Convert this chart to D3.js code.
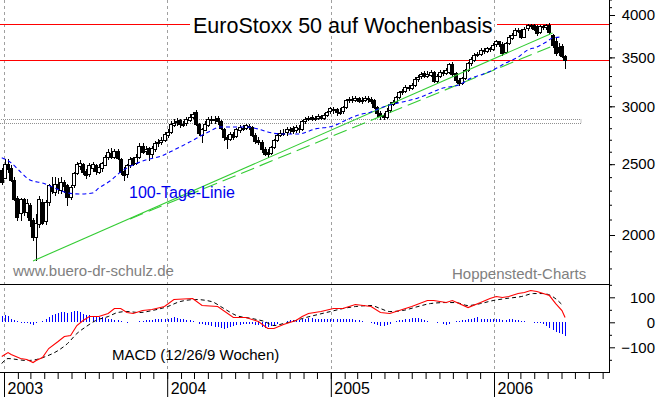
<!DOCTYPE html>
<html>

<head>
  <meta charset="utf-8">
  <title>EuroStoxx 50 auf Wochenbasis</title>
  <script src="https://cdn.jsdelivr.net/npm/d3@7/dist/d3.min.js"></script>
  <style>
    body {
      margin: 0;
      background: #fff;
    }

    svg {
      display: block;
      font-family: "Liberation Sans", Arial, sans-serif;
    }
  </style>
</head>

<body>
  <main id="container"></main>

  <script>
    // weekly candles, first bar = week ending Fri 27 Dec 2002
    const firstWeek = Date.UTC(2002, 11, 27);

    const open = [
      2455, 2400, 2500, 2470, 2380, 2250, 2140, 2240, 2150, 2200,
      2100, 1990, 2070, 2220, 2090, 2220, 2330, 2290, 2350, 2300,
      2360, 2340, 2260, 2340, 2430, 2490, 2500, 2450, 2420, 2470,
      2490, 2440, 2470, 2500, 2560, 2590, 2560, 2610, 2540, 2450,
      2420, 2490, 2550, 2510, 2560, 2650, 2600, 2630, 2580, 2620,
      2670, 2680, 2700, 2740, 2770, 2830, 2850, 2870, 2830, 2840,
      2870, 2900, 2950, 2840, 2740, 2790, 2830, 2880, 2870, 2890,
      2860, 2790, 2720, 2710, 2750, 2730, 2780, 2800, 2800, 2820,
      2810, 2740, 2700, 2680, 2620, 2600, 2590, 2640, 2700, 2740,
      2760, 2760, 2790, 2800, 2780, 2800, 2790, 2860, 2880, 2900,
      2880, 2890, 2910, 2890, 2920, 2950, 2970, 2970, 2940, 2950,
      2990, 3060, 3070, 3060, 3080, 3050, 3060, 3080, 3070, 3060,
      2990, 2940, 2920, 2900, 2960, 3020, 3040, 3090, 3140, 3150,
      3190, 3180, 3210, 3270, 3300, 3330, 3300, 3310, 3340, 3250,
      3300, 3340, 3330, 3340, 3430, 3330, 3260, 3230, 3280, 3360,
      3440, 3470, 3530, 3540, 3580, 3570, 3600, 3590, 3640, 3680,
      3650, 3560, 3660, 3720, 3760, 3820, 3820, 3740, 3830, 3860,
      3880, 3860, 3790, 3860, 3850, 3880, 3760, 3690, 3620, 3630,
      3510
    ];
    const high = [
      2470, 2540, 2540, 2490, 2400, 2260, 2250, 2250, 2240, 2210,
      2110, 2140, 2260, 2240, 2230, 2350, 2400, 2400, 2390, 2400,
      2380, 2350, 2340, 2440, 2520, 2535, 2510, 2460, 2510, 2520,
      2500, 2500, 2520, 2570, 2620, 2630, 2620, 2620, 2550, 2480,
      2500, 2560, 2560, 2580, 2670, 2670, 2650, 2640, 2650, 2690,
      2710, 2720, 2770, 2790, 2860, 2880, 2890, 2880, 2860, 2900,
      2930, 2950, 2965, 2850, 2800, 2860, 2900, 2910, 2910, 2910,
      2870, 2800, 2740, 2770, 2770, 2800, 2830, 2830, 2840, 2840,
      2820, 2760, 2720, 2700, 2640, 2620, 2650, 2710, 2760, 2780,
      2790, 2810, 2810, 2820, 2830, 2830, 2870, 2900, 2910, 2920,
      2910, 2930, 2920, 2940, 2960, 2990, 2990, 2980, 2980, 3000,
      3070, 3090, 3100, 3100, 3090, 3090, 3100, 3100, 3090, 3070,
      3000, 2960, 2940, 2980, 3040, 3060, 3100, 3150, 3170, 3210,
      3210, 3230, 3290, 3310, 3340, 3350, 3350, 3360, 3350, 3320,
      3360, 3360, 3380, 3440, 3450, 3340, 3280, 3290, 3370, 3450,
      3500, 3550, 3560, 3600, 3600, 3620, 3620, 3660, 3700, 3690,
      3670, 3670, 3750, 3780, 3840, 3840, 3830, 3850, 3890, 3890,
      3890, 3880, 3880, 3880, 3890, 3900, 3770, 3720, 3660, 3650,
      3530
    ];
    const low = [
      2350, 2390, 2440, 2370, 2230, 2100, 2100, 2130, 2120, 2060,
      1970, 1850, 2050, 2070, 2070, 2200, 2280, 2270, 2280, 2280,
      2290, 2200, 2240, 2330, 2420, 2460, 2420, 2390, 2410, 2450,
      2420, 2430, 2450, 2490, 2540, 2550, 2550, 2540, 2420, 2380,
      2400, 2480, 2490, 2500, 2550, 2590, 2580, 2530, 2560, 2610,
      2650, 2660, 2690, 2720, 2760, 2820, 2830, 2810, 2820, 2830,
      2860, 2890, 2830, 2740, 2680, 2780, 2820, 2850, 2850, 2840,
      2790, 2700, 2630, 2700, 2710, 2720, 2770, 2780, 2790, 2790,
      2730, 2670, 2660, 2600, 2570, 2560, 2580, 2630, 2690, 2730,
      2740, 2740, 2760, 2760, 2770, 2770, 2780, 2850, 2870, 2870,
      2870, 2880, 2880, 2880, 2910, 2940, 2940, 2920, 2930, 2940,
      2980, 3040, 3040, 3050, 3040, 3030, 3050, 3040, 3030, 2980,
      2910, 2880, 2880, 2890, 2950, 3010, 3030, 3080, 3120, 3140,
      3160, 3170, 3200, 3250, 3280, 3290, 3290, 3300, 3240, 3240,
      3290, 3310, 3320, 3330, 3300, 3240, 3210, 3220, 3270, 3350,
      3420, 3460, 3510, 3530, 3550, 3560, 3570, 3580, 3630, 3630,
      3530, 3550, 3650, 3710, 3750, 3790, 3720, 3730, 3820, 3840,
      3820, 3760, 3780, 3830, 3830, 3770, 3620, 3530, 3530, 3500,
      3380
    ];
    const close = [
      2365, 2505, 2460, 2380, 2240, 2120, 2240, 2150, 2210, 2100,
      1990, 2080, 2240, 2080, 2220, 2340, 2300, 2350, 2320, 2360,
      2330, 2250, 2330, 2430, 2500, 2510, 2440, 2420, 2490, 2500,
      2440, 2480, 2510, 2560, 2600, 2560, 2610, 2550, 2440, 2420,
      2490, 2540, 2500, 2560, 2650, 2600, 2620, 2580, 2630, 2670,
      2680, 2700, 2750, 2770, 2840, 2850, 2860, 2830, 2840, 2880,
      2900, 2930, 2840, 2760, 2790, 2840, 2880, 2870, 2880, 2860,
      2800, 2720, 2700, 2750, 2720, 2790, 2810, 2790, 2830, 2810,
      2740, 2690, 2680, 2620, 2580, 2580, 2640, 2700, 2740, 2760,
      2750, 2790, 2780, 2770, 2810, 2790, 2860, 2880, 2890, 2880,
      2890, 2910, 2890, 2920, 2950, 2980, 2960, 2940, 2950, 2990,
      3060, 3070, 3060, 3080, 3050, 3060, 3080, 3070, 3050, 2990,
      2930, 2910, 2900, 2960, 3020, 3040, 3090, 3140, 3150, 3190,
      3180, 3210, 3270, 3290, 3320, 3300, 3320, 3340, 3250, 3300,
      3340, 3330, 3360, 3430, 3320, 3260, 3230, 3280, 3360, 3440,
      3480, 3530, 3540, 3580, 3570, 3600, 3590, 3640, 3680, 3640,
      3550, 3660, 3730, 3760, 3820, 3810, 3740, 3830, 3870, 3870,
      3830, 3780, 3860, 3850, 3870, 3790, 3640, 3550, 3560, 3520,
      3470
    ];

    // 100-Tage-Linie, read at these weeks
    const maWeek = [0, 3, 6, 9, 13, 17, 21, 25, 29, 31, 35, 38, 42, 46, 51, 55, 60, 66, 70, 74,
      78, 82, 85, 89, 95, 100, 106, 110, 114, 118, 121, 124, 128, 133, 137, 141, 146, 150, 153, 157,
      161, 165, 168, 171, 174, 176, 179];
    const maValue = [2552, 2510, 2440, 2378, 2356, 2319, 2283, 2276, 2283, 2319, 2378, 2440, 2494, 2533, 2565, 2614, 2680, 2767, 2811, 2811,
      2811, 2793, 2767, 2750, 2750, 2793, 2820, 2873, 2919, 2947, 2984, 3012, 3041, 3080, 3129, 3178, 3208, 3280, 3311, 3364,
      3438, 3504, 3582, 3616, 3674, 3720, 3732];

    // MACD line and signal line
    const macdWeek = [0, 2, 3, 6, 8, 10, 11, 13, 15, 18, 20, 22, 24, 26, 28, 31, 34, 36, 38, 40,
      42, 45, 48, 52, 55, 61, 64, 69, 74, 78, 82, 85, 87, 90, 94, 96, 98, 102, 106, 109,
      113, 118, 121, 124, 127, 131, 136, 138, 142, 144, 149, 153, 156, 158, 160, 162, 165, 167, 169, 171,
      175, 177, 179, 180];
    const macdValue = [-137, -121, -129, -145, -149, -161, -153, -141, -105, -77, -57, -53, -13, 7, 23, 23, 35, 55, 55, 39,
      35, 47, 51, 63, 91, 95, 67, 63, 19, 19, 3, -25, -25, -9, 7, 23, 35, 43, 55, 55,
      71, 63, 39, 35, 47, 63, 87, 87, 79, 87, 59, 79, 95, 103, 99, 103, 115, 119, 127, 123,
      107, 75, 47, 19];
    const signalWeek = [0, 2, 5, 8, 11, 14, 18, 21, 24, 27, 30, 34, 37, 40, 44, 48, 53, 57, 62, 67,
      71, 75, 80, 84, 87, 90, 94, 96, 101, 105, 109, 113, 118, 121, 124, 128, 133, 137, 142, 145,
      149, 153, 157, 161, 166, 170, 173, 176, 179];
    const signalValue = [-165, -145, -149, -153, -149, -137, -113, -85, -45, -17, 7, 23, 39, 43, 39, 47, 63, 83, 91, 83,
      55, 27, 15, 3, -13, -5, 7, 15, 31, 43, 55, 63, 67, 55, 43, 47, 63, 75, 79, 79,
      67, 75, 87, 95, 103, 115, 115, 103, 71];

    // histogram, one value per week
    const histValue = [
      25, 28, 25, 15, 10, 5, -2, -3, -3, -5,
      -10, -3, 3, 5, 12, 20, 30, 35, 38, 40,
      40, 38, 42, 45, 45, 42, 35, 30, 28, 25,
      22, 22, 20, 18, 15, 12, 10, 8, 4, 0,
      -2, 0, 2, 3, 5, 6, 8, 10, 10, 12,
      12, 14, 15, 14, 18, 20, 18, 15, 12, 10,
      8, 5, 2, -5, -8, -10, -12, -15, -18, -20,
      -22, -25, -22, -20, -15, -12, -10, -8, -5, -5,
      -8, -10, -12, -18, -22, -20, -15, -10, -5, 0,
      3, 5, 8, 10, 10, 10, 12, 15, 18, 18,
      15, 14, 13, 12, 12, 13, 14, 13, 12, 12,
      13, 14, 12, 10, 8, 5, 3, 0, -2, -8,
      -12, -15, -14, -10, -6, 2, 5, 8, 10, 12,
      15, 18, 18, 16, 12, 8, 4, 2, 0, -2,
      0, -8, -12, -6, 2, 4, 6, 8, 10, 12,
      14, 18, 20, 15, 14, 12, 12, 13, 14, 13,
      10, 10, 12, 12, 10, 8, 6, 4, 2, 0,
      -1, -2, -4, -8, -15, -22, -30, -38, -42, -48,
      -55
    ];

    // trend lines (upper solid, lower dashed)
    const trendStartWeek = [10, 41];
    const trendStartValue = [1843, 2104];
    const trendEndWeek = [176, 176];
    const trendEndValue = [3780, 3628];

    // horizontal marks
    const redLevels = [3888, 3471];
    const zoneLow = 2846, zoneHigh = 2882, zoneEndWeek = 185;

    const priceTicks = [2000, 2500, 3000, 3500, 4000];
    const macdTicks = [-100, 0, 100];
    const macdMinorTicks = [-150, -50, 50, 150];

    // layout
    const width = 660, height = 397;
    const plotRight = 609;
    const mainBottom = 284, macdBottom = 372;

    const weekDate = i => new Date(firstWeek + i * 7 * 864e5);

    const x = d3.scaleUtc()
      .domain([new Date(Date.UTC(2003, 0, 1)), new Date(Date.UTC(2006, 0, 1))])
      .range([4, 494]);
    const y = d3.scaleLog().domain([2000, 4000]).range([235, 15]);
    const yMacd = d3.scaleLinear().domain([-100, 100]).range([347.3, 297.3]);

    const px = v => Math.round(v) + 0.5;

    const svg = d3.select("#container")
      .append("svg")
      .attr("width", width)
      .attr("height", height);

    const defs = svg.append("defs");
    defs.append("clipPath").attr("id", "clipMain")
      .append("rect").attr("x", 0).attr("y", 0).attr("width", plotRight).attr("height", mainBottom);
    defs.append("clipPath").attr("id", "clipMacd")
      .append("rect").attr("x", 0).attr("y", mainBottom).attr("width", plotRight).attr("height", macdBottom - mainBottom);

    // year grid lines through both panels
    const years = d3.utcYear.range(new Date(Date.UTC(2003, 0, 1)), new Date(Date.UTC(2007, 0, 1)))
      .filter(d => x(d) < plotRight);
    svg.append("g")
      .selectAll("line")
      .data(years)
      .join("line")
      .attr("x1", d => px(x(d)))
      .attr("x2", d => px(x(d)))
      .attr("y1", 0)
      .attr("y2", macdBottom)
      .attr("stroke", "#a0a0a0")
      .attr("stroke-dasharray", "3,3");

    const main = svg.append("g").attr("clip-path", "url(#clipMain)");

    // grey zone
    main.append("rect")
      .attr("x", -1)
      .attr("y", px(y(zoneHigh)))
      .attr("width", Math.round(x(weekDate(zoneEndWeek))) + 1)
      .attr("height", Math.round(y(zoneLow) - y(zoneHigh)))
      .attr("fill", "none")
      .attr("stroke", "#909090")
      .attr("stroke-dasharray", "1,1");

    // title (needed before red line for the gap)
    const title = svg.append("text")
      .attr("x", 193)
      .attr("y", 33)
      .attr("font-size", 21.5)
      .attr("fill", "#000")
      .text("EuroStoxx 50 auf Wochenbasis");
    const tb = title.node().getBBox();

    // red levels
    redLevels.forEach((v, k) => {
      const yy = px(y(v));
      const segs = k === 0 ? [[0, tb.x - 3], [tb.x + tb.width + 4, plotRight]] : [[0, plotRight]];
      segs.forEach(s => {
        main.append("line")
          .attr("x1", s[0]).attr("x2", s[1])
          .attr("y1", yy).attr("y2", yy)
          .attr("stroke", "#ff0000")
          .attr("shape-rendering", "crispEdges");
      });
    });

    // candles
    const weeks = close.map((c, i) => ({ date: weekDate(i), o: open[i], h: high[i], l: low[i], c: c }));

    const candles = main.append("g").attr("shape-rendering", "crispEdges");
    candles.selectAll("line")
      .data(weeks)
      .join("line")
      .attr("x1", d => px(x(d.date)))
      .attr("x2", d => px(x(d.date)))
      .attr("y1", d => Math.round(y(d.h)))
      .attr("y2", d => Math.round(y(d.l)) + 1)
      .attr("stroke", "#000");
    candles.selectAll("rect")
      .data(weeks)
      .join("rect")
      .attr("x", d => Math.round(x(d.date)) - 1.5)
      .attr("width", 3)
      .attr("y", d => Math.round(y(Math.max(d.o, d.c))) + 0.5)
      .attr("height", d => Math.max(1, Math.round(Math.abs(y(d.o) - y(d.c)))))
      .attr("fill", d => d.c < d.o ? "#000" : "#fff")
      .attr("stroke", "#000");

    // trend lines
    trendStartWeek.forEach((w, k) => {
      main.append("line")
        .attr("x1", x(weekDate(w)))
        .attr("y1", y(trendStartValue[k]))
        .attr("x2", x(weekDate(trendEndWeek[k])))
        .attr("y2", y(trendEndValue[k]))
        .attr("stroke", "#33cc33")
        .attr("stroke-width", 1.1)
        .attr("stroke-dasharray", k === 0 ? null : "14,6");
    });

    // 100-Tage-Linie
    const maLine = d3.line()
      .x(i => x(weekDate(maWeek[i])))
      .y(i => y(maValue[i]))
      .curve(d3.curveMonotoneX);
    main.append("path")
      .attr("d", maLine(d3.range(maWeek.length)))
      .attr("fill", "none")
      .attr("stroke", "#0000ff")
      .attr("stroke-width", 1.1)
      .attr("stroke-dasharray", "4,3");

    // labels in main panel
    svg.append("text")
      .attr("x", 129).attr("y", 198)
      .attr("font-size", 16)
      .attr("fill", "#0000ee")
      .text("100-Tage-Linie");
    svg.append("text")
      .attr("x", 13).attr("y", 276)
      .attr("font-size", 15)
      .attr("fill", "#808080")
      .text("www.buero-dr-schulz.de");
    svg.append("text")
      .attr("x", 452).attr("y", 279)
      .attr("font-size", 15)
      .attr("fill", "#808080")
      .text("Hoppenstedt-Charts");

    // MACD panel
    const macdG = svg.append("g").attr("clip-path", "url(#clipMacd)");
    macdG.append("g")
      .attr("shape-rendering", "crispEdges")
      .selectAll("line")
      .data(histValue)
      .join("line")
      .attr("x1", (d, i) => px(x(weekDate(i))))
      .attr("x2", (d, i) => px(x(weekDate(i))))
      .attr("y1", yMacd(0))
      .attr("y2", d => yMacd(d))
      .attr("stroke", "#0000ff");

    const sigLine = d3.line()
      .x(i => x(weekDate(signalWeek[i])))
      .y(i => yMacd(signalValue[i]))
      .curve(d3.curveMonotoneX);
    macdG.append("path")
      .attr("d", sigLine(d3.range(signalWeek.length)))
      .attr("fill", "none")
      .attr("stroke", "#000")
      .attr("stroke-dasharray", "4,3");

    const macdLine = d3.line()
      .x(i => x(weekDate(macdWeek[i])))
      .y(i => yMacd(macdValue[i]));
    macdG.append("path")
      .attr("d", macdLine(d3.range(macdWeek.length)))
      .attr("fill", "none")
      .attr("stroke", "#ff0000")
      .attr("stroke-width", 1.1);

    svg.append("text")
      .attr("x", 112).attr("y", 360)
      .attr("font-size", 15)
      .attr("fill", "#000")
      .text("MACD (12/26/9 Wochen)");

    // frame lines
    const frame = svg.append("g").attr("stroke", "#000").attr("shape-rendering", "crispEdges");
    frame.append("line").attr("x1", 0).attr("x2", plotRight + 1).attr("y1", mainBottom + 0.5).attr("y2", mainBottom + 0.5);
    frame.append("line").attr("x1", 0).attr("x2", plotRight + 1).attr("y1", macdBottom + 0.5).attr("y2", macdBottom + 0.5);
    frame.append("line").attr("x1", plotRight + 0.5).attr("x2", plotRight + 0.5).attr("y1", 0).attr("y2", macdBottom + 1);

    function styleAxis(g, size) {
      g.select(".domain").remove();
      g.selectAll("line").attr("stroke", "#000");
      g.selectAll("text")
        .attr("fill", "#000")
        .attr("font-size", size)
        .attr("font-family", '"Liberation Sans", Arial, sans-serif');
    }

    // right axes
    svg.append("g")
      .attr("transform", `translate(${plotRight},0)`)
      .call(d3.axisRight(y).tickValues(d3.range(1800, 4300, 100)).tickSize(3).tickFormat(""))
      .call(g => styleAxis(g, 15));
    svg.append("g")
      .attr("transform", `translate(${plotRight},0)`)
      .call(d3.axisRight(y).tickValues(priceTicks).tickSize(6).tickFormat(d3.format("d")))
      .call(g => styleAxis(g, 15))
      .call(g => g.selectAll("text").attr("x", 46).attr("text-anchor", "end"));

    svg.append("g")
      .attr("transform", `translate(${plotRight},0)`)
      .call(d3.axisRight(yMacd).tickValues(macdMinorTicks).tickSize(3).tickFormat(""))
      .call(g => styleAxis(g, 15));
    svg.append("g")
      .attr("transform", `translate(${plotRight},0)`)
      .call(d3.axisRight(yMacd).tickValues(macdTicks).tickSize(6).tickFormat(d3.format("d")))
      .call(g => styleAxis(g, 15))
      .call(g => g.selectAll("text").attr("x", 46).attr("text-anchor", "end"));

    // time axis: month ticks and year ticks
    const months = d3.utcMonth.range(new Date(Date.UTC(2003, 0, 1)), new Date(Date.UTC(2006, 9, 1)))
      .filter(d => x(d) < plotRight);
    svg.append("g")
      .attr("transform", `translate(0,${macdBottom})`)
      .call(d3.axisBottom(x).tickValues(months).tickSize(7).tickFormat(""))
      .call(g => styleAxis(g, 16));
    svg.append("g")
      .attr("transform", `translate(0,${macdBottom})`)
      .call(d3.axisBottom(x).tickValues(years).tickSize(25).tickFormat(d3.utcFormat("%Y")))
      .call(g => styleAxis(g, 16))
      .call(g => g.selectAll("text").attr("x", 3).attr("y", 22).attr("dy", 0).attr("text-anchor", "start"));
  </script>
</body>

</html>
